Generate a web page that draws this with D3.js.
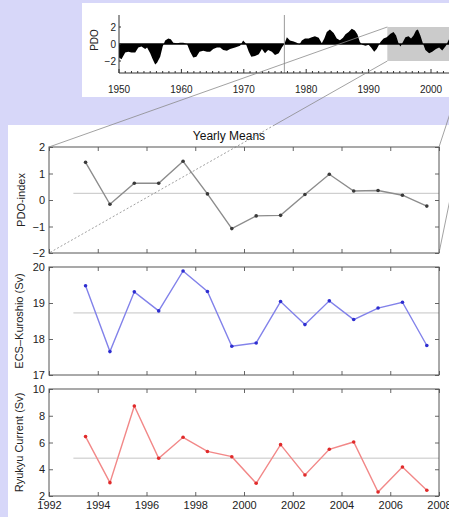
<!DOCTYPE html>
<html>
<head>
<meta charset="utf-8">
<script src="https://cdn.jsdelivr.net/npm/d3@7"></script>
<style>
  body { margin: 0; background: #d7d7f9; }
  svg { display: block; font-family: "Liberation Sans", Arial, sans-serif; }
</style>
</head>
<body>
<svg id="chart" width="449" height="517"></svg>
<script>
// Yearly means, plotted at mid-year
const years = [1993.5, 1994.5, 1995.5, 1996.5, 1997.5, 1998.5, 1999.5, 2000.5,
  2001.5, 2002.5, 2003.5, 2004.5, 2005.5, 2006.5, 2007.5];
const pdoYearly = [1.42, -0.16, 0.63, 0.63, 1.46, 0.23, -1.08, -0.6, -0.58, 0.21, 0.97, 0.34, 0.36, 0.18, -0.23];
const ecsKuroshio = [19.48, 17.65, 19.31, 18.78, 19.89, 19.32, 17.8, 17.89, 19.04, 18.4, 19.06, 18.54, 18.86, 19.02, 17.82];
const ryukyuCurrent = [6.44, 3.0, 8.73, 4.82, 6.39, 5.33, 4.94, 2.95, 5.84, 3.57, 5.49, 6.04, 2.3, 4.17, 2.43];
const xTicks = [1992, 1994, 1996, 1998, 2000, 2002, 2004, 2006, 2008];

// PDO time series for the inset
const pdoSeriesYears = [1950.0, 1950.4, 1951.0, 1951.5, 1952.0, 1952.6, 1953.1, 1953.6, 1954.2, 1954.5,
  1955.0, 1955.4, 1955.8, 1956.1, 1956.6, 1957.0, 1957.4, 1957.9, 1958.3, 1958.7,
  1959.3, 1959.8, 1960.3, 1960.9, 1961.4, 1961.9, 1962.4, 1962.9, 1963.5, 1964.1,
  1964.6, 1965.1, 1965.7, 1966.2, 1966.7, 1967.3, 1967.8, 1968.6, 1969.4, 1969.9,
  1970.3, 1970.8, 1971.2, 1971.8, 1972.4, 1972.9, 1973.4, 1973.9, 1974.5, 1975.0,
  1975.6, 1976.1, 1976.5, 1976.9, 1977.4, 1978.0, 1978.5, 1978.9, 1979.3, 1979.8,
  1980.4, 1980.9, 1981.4, 1982.0, 1982.5, 1982.9, 1983.3, 1983.8, 1984.4, 1984.9,
  1985.4, 1985.9, 1986.3, 1986.8, 1987.3, 1987.8, 1988.2, 1988.6, 1989.0, 1989.5,
  1990.0, 1990.4, 1990.9, 1991.3, 1991.9, 1992.4, 1992.9, 1993.5, 1994.0, 1994.4,
  1994.8, 1995.1, 1995.5, 1995.9, 1996.4, 1996.8, 1997.2, 1997.6, 1997.9, 1998.3,
  1998.7, 1999.1, 1999.7, 2000.2, 2000.8, 2001.3, 2001.8, 2002.4, 2002.8, 2003.1];
const pdoSeriesValues = [-1.6, -1.8, -1.0, -0.9, -1.0, -1.0, -0.4, -0.3, -0.6, -0.4,
  -1.1, -1.8, -2.4, -2.2, -1.5, -0.3, 0.4, 0.65, 0.55, 0.15,
  0.1, 0.15, 0.15, 0.0, -0.9, -1.6, -1.5, -0.9, -0.8, -0.9,
  -0.9, -0.6, -0.4, -0.4, -0.7, -0.8, -0.6, -0.4, -0.2, 0.4,
  0.1, -0.9, -1.5, -1.4, -1.2, -0.6, -1.1, -0.7, -0.9, -1.3,
  -1.1, -0.4, 0.0, 0.8, 0.4, 0.3, 0.15, -0.1, 0.4, 0.65,
  0.65, 0.8, 0.9, 0.75, 0.1, 0.65, 1.4, 1.7, 1.3, 0.65,
  0.45, 0.75, 1.15, 1.4, 1.8, 1.6, 1.15, 0.25, -0.1, -0.2,
  -0.1, -0.4, -0.9, -0.6, 0.25, 0.65, 0.8, 1.2, 1.4, 1.0,
  0.1, -0.3, 0.25, 0.8, 0.9, 0.65, 1.0, 1.6, 1.7, 1.0,
  0.1, -0.7, -1.1, -0.9, -0.6, -0.4, -0.75, -0.2, 0.45, 0.8];
const insetTicks = [1950, 1960, 1970, 1980, 1990, 2000];
const insetYTicks = [-2, 0, 2];
const regimeShiftYear = 1976.5;
const zoomRange = [1993, 2007.6];

const svg = d3.select('#chart');
const font = '"Liberation Sans", Arial, sans-serif';

// ---------- inset (full PDO record) ----------
svg.append('rect').attr('x', 82).attr('y', 3).attr('width', 380).attr('height', 94).attr('fill', '#fff');

const xi = d3.scaleLinear().domain([1950, 2000]).range([119, 431]);
const yi = d3.scaleLinear().domain([-2, 2]).range([61, 27]);
const inset = svg.append('g');

inset.append('rect')
  .attr('x', xi(zoomRange[0])).attr('y', yi(2))
  .attr('width', xi(zoomRange[1]) - xi(zoomRange[0])).attr('height', yi(-2) - yi(2))
  .attr('fill', '#cbcbcb');

const pdoSeries = pdoSeriesYears.map((t, i) => ({ t: t, v: pdoSeriesValues[i] }));
inset.append('path')
  .datum(pdoSeries)
  .attr('fill', '#000')
  .attr('d', d3.area().x(d => xi(d.t)).y0(yi(0)).y1(d => yi(d.v)));

inset.append('line')
  .attr('x1', xi(1950)).attr('x2', 449).attr('y1', yi(0)).attr('y2', yi(0))
  .attr('stroke', '#000').attr('stroke-width', 1.5);

inset.append('line')
  .attr('x1', xi(regimeShiftYear)).attr('x2', xi(regimeShiftYear)).attr('y1', 15).attr('y2', 73)
  .attr('stroke', '#999').attr('stroke-width', 1);

// bottom axis with yearly minor ticks
inset.append('line').attr('x1', xi(1950)).attr('x2', 449).attr('y1', 73).attr('y2', 73)
  .attr('stroke', '#333');
inset.append('line').attr('x1', xi(1950)).attr('x2', xi(1950)).attr('y1', 15).attr('y2', 73)
  .attr('stroke', '#333');
inset.selectAll('.minor').data(d3.range(1950, 2009)).enter().append('line')
  .attr('x1', d => xi(d)).attr('x2', d => xi(d))
  .attr('y1', 73).attr('y2', d => d % 10 === 0 ? 69 : 71)
  .attr('stroke', '#333');
inset.selectAll('.xlab').data(insetTicks).enter().append('text')
  .attr('x', d => xi(d)).attr('y', 93)
  .attr('text-anchor', 'middle').attr('font-size', 10).attr('fill', '#222')
  .text(d => d);
inset.selectAll('.ytick').data(insetYTicks).enter().append('line')
  .attr('x1', xi(1950)).attr('x2', xi(1950) + 2)
  .attr('y1', d => yi(d)).attr('y2', d => yi(d)).attr('stroke', '#333');
inset.selectAll('.ylab').data(insetYTicks).enter().append('text')
  .attr('x', 116).attr('y', d => yi(d) + 3.5)
  .attr('text-anchor', 'end').attr('font-size', 10).attr('fill', '#222')
  .text(d => d < 0 ? '\u2212' + Math.abs(d) : d);
inset.append('text')
  .attr('transform', 'translate(98,40) rotate(-90)')
  .attr('text-anchor', 'middle').attr('font-size', 10).attr('fill', '#222')
  .text('PDO');

// ---------- main panel ----------
const mainTop = 125;
svg.append('rect').attr('x', 8).attr('y', mainTop).attr('width', 441).attr('height', 517 - mainTop).attr('fill', '#fff');

const x = d3.scaleLinear().domain([1992, 2008]).range([49, 439]);

svg.append('text')
  .attr('x', 229).attr('y', 140).attr('text-anchor', 'middle')
  .attr('font-size', 12).attr('fill', '#111')
  .text('Yearly Means');

const panels = [
  { values: pdoYearly, domain: [-2, 2], range: [253, 147], ticks: [-2, -1, 0, 1, 2],
    line: '#8c8c8c', marker: '#3a3a3a', label: 'PDO-index', labelX: 25 },
  { values: ecsKuroshio, domain: [17, 20], range: [375, 267], ticks: [17, 18, 19, 20],
    line: '#8282ea', marker: '#2e2ed0', label: 'ECS\u2013Kuroshio (Sv)', labelX: 23 },
  { values: ryukyuCurrent, domain: [2, 10], range: [496, 389], ticks: [2, 4, 6, 8, 10],
    line: '#f28888', marker: '#e02a2a', label: 'Ryukyu Current (Sv)', labelX: 23 }
];

const fmt = d => d < 0 ? '\u2212' + Math.abs(d) : String(d);

panels.forEach((p, idx) => {
  const y = d3.scaleLinear().domain(p.domain).range(p.range);
  const g = svg.append('g');
  const top = p.range[1], bottom = p.range[0];

  // mean line
  const mean = d3.mean(p.values);
  g.append('line')
    .attr('x1', x(1993)).attr('x2', x(2008)).attr('y1', y(mean)).attr('y2', y(mean))
    .attr('stroke', '#c4c4c4').attr('stroke-width', 1);

  const pts = years.map((t, i) => ({ t: t, v: p.values[i] }));
  g.append('path').datum(pts)
    .attr('fill', 'none').attr('stroke', p.line).attr('stroke-width', 1.4)
    .attr('d', d3.line().x(d => x(d.t)).y(d => y(d.v)));
  g.selectAll('circle').data(pts).enter().append('circle')
    .attr('cx', d => x(d.t)).attr('cy', d => y(d.v)).attr('r', 1.8)
    .attr('fill', p.marker);

  // axes: inward ticks on all four sides
  const left = g.append('g').attr('transform', `translate(${x(1992)},0)`)
    .call(d3.axisLeft(y).tickValues(p.ticks).tickSize(-4).tickSizeOuter(0).tickPadding(4).tickFormat(fmt));
  const right = g.append('g').attr('transform', `translate(${x(2008)},0)`)
    .call(d3.axisRight(y).tickValues(p.ticks).tickSize(-4).tickSizeOuter(0).tickFormat(''));
  const topAx = g.append('g').attr('transform', `translate(0,${top})`)
    .call(d3.axisTop(x).tickValues(xTicks).tickSize(-4).tickSizeOuter(0).tickFormat(''));
  const botAx = g.append('g').attr('transform', `translate(0,${bottom})`)
    .call(d3.axisBottom(x).tickValues(xTicks).tickSize(-4).tickSizeOuter(0).tickPadding(5)
      .tickFormat(idx === panels.length - 1 ? d3.format('d') : ''));
  [left, right, topAx, botAx].forEach(a => {
    a.select('.domain').remove();
    a.selectAll('line').attr('stroke', '#666');
    a.selectAll('text').attr('font-size', 11).attr('fill', '#222').attr('font-family', font);
  });

  g.append('rect')
    .attr('x', x(1992)).attr('y', top).attr('width', x(2008) - x(1992)).attr('height', bottom - top)
    .attr('fill', 'none').attr('stroke', '#555').attr('stroke-width', 1);

  g.append('text')
    .attr('transform', `translate(${p.labelX},${(top + bottom) / 2}) rotate(-90)`)
    .attr('text-anchor', 'middle').attr('font-size', 11).attr('fill', '#222')
    .text(p.label);
});

// ---------- zoom connector lines ----------
const boxL = xi(zoomRange[0]), boxR = xi(zoomRange[1]);
const pdoTop = panels[0].range[1], pdoBottom = panels[0].range[0];
const connectors = [
  [boxL, yi(2), x(1992), pdoTop, false],
  [boxL, yi(-2), x(1992), pdoBottom, true],
  [boxR, yi(2), x(2008), pdoTop, false],
  [boxR, yi(-2), x(2008), pdoBottom, false]
];
connectors.forEach(([x1, y1, x2, y2, dashInside]) => {
  if (!dashInside) {
    svg.append('line').attr('x1', x1).attr('y1', y1).attr('x2', x2).attr('y2', y2)
      .attr('stroke', '#8a8a8a').attr('stroke-width', 0.8);
    return;
  }
  // solid until it enters the white panel, dashed after
  const t = (mainTop - y1) / (y2 - y1);
  const xm = x1 + t * (x2 - x1);
  svg.append('line').attr('x1', x1).attr('y1', y1).attr('x2', xm).attr('y2', mainTop)
    .attr('stroke', '#8a8a8a').attr('stroke-width', 0.8);
  svg.append('line').attr('x1', xm).attr('y1', mainTop).attr('x2', x2).attr('y2', y2)
    .attr('stroke', '#777').attr('stroke-width', 0.7).attr('stroke-dasharray', '2,2');
});
</script>
</body>
</html>
